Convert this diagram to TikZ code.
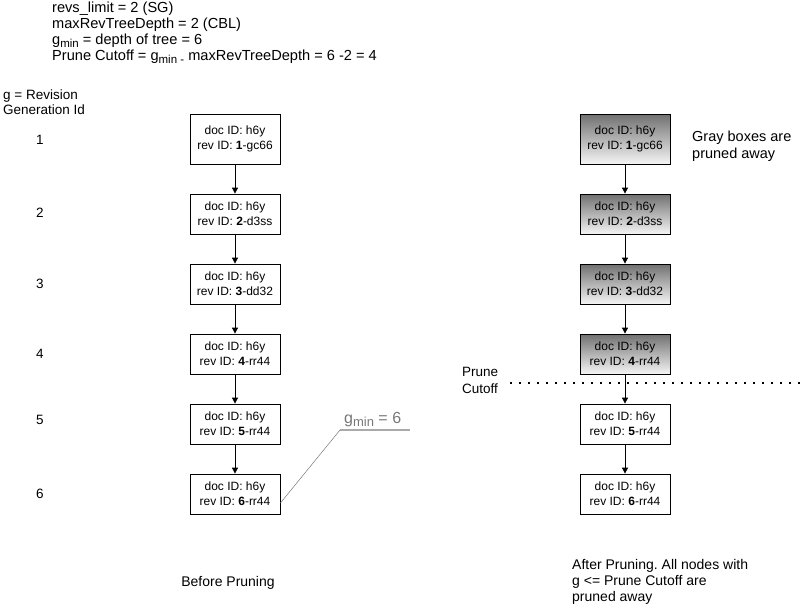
\documentclass[tikz,border=0pt]{standalone}
\usepackage{fontspec}
\setmainfont{Liberation Sans}
\usetikzlibrary{arrows.meta}
\frenchspacing
\definecolor{gtop}{RGB}{112,112,112}
\definecolor{gbot}{RGB}{245,245,245}
\definecolor{gminc}{RGB}{120,120,120}
\definecolor{gminl}{RGB}{170,170,170}
\tikzset{
  docbox/.style={draw=black, line width=0.8pt, minimum width=90pt, minimum height=40pt, align=center, inner sep=2pt, font=\fontsize{12}{15}\selectfont, fill=white},
  tallbox/.style={docbox, minimum height=50pt},
  pruned/.style={top color=gtop, bottom color=gbot},
  link/.style={draw=black, line width=0.8pt, -{Triangle[length=6pt,width=6pt]}},
  txt/.style={anchor=north west, align=left, inner sep=0pt, font=\fontsize{14}{16}\selectfont},
  gnum/.style={font=\fontsize{13.5}{15}\selectfont, inner sep=0pt}
}
\newcommand{\doctext}[2]{doc ID: h6y\\rev ID: \textbf{#1}-#2}
\newcommand{\lowsub}[1]{\raisebox{-2.8pt}{\fontsize{11.5}{11}\selectfont #1}}
\begin{document}
\begin{tikzpicture}[x=1pt,y=-1pt]
\useasboundingbox (0,0) rectangle (803,608);
% header text
\node[txt, font=\fontsize{14.6}{16}\selectfont] (hdr) at (52,2) {revs\_limit = 2 (SG)\\
maxRevTreeDepth = 2 (CBL)\\
g\lowsub{min} = depth of tree = 6\\
Prune Cutoff = g\lowsub{min -} maxRevTreeDepth = 6 -2 = 4};
\node[txt, font=\fontsize{13.5}{15}\selectfont] (glab) at (3,90) {g = Revision\\Generation Id};
% generation numbers
\node[gnum] (n1) at (40,140) {1};
\node[gnum] (n2) at (40,213) {2};
\node[gnum] (n3) at (40,284) {3};
\node[gnum] (n4) at (40,354) {4};
\node[gnum] (n5) at (40,420) {5};
\node[gnum] (n6) at (40,494) {6};
% left column
\node[tallbox] (a1) at (235,139) {\doctext{1}{gc66}};
\node[docbox] (a2) at (235,214) {\doctext{2}{d3ss}};
\node[docbox] (a3) at (235,284) {\doctext{3}{dd32}};
\node[docbox] (a4) at (235,354) {\doctext{4}{rr44}};
\node[docbox] (a5) at (235,424) {\doctext{5}{rr44}};
\node[docbox] (a6) at (235,494) {\doctext{6}{rr44}};
\foreach \i/\j in {1/2,2/3,3/4,4/5,5/6} \draw[link] (a\i) -- (a\j);
% right column
\node[tallbox,pruned] (b1) at (625,139) {\doctext{1}{gc66}};
\node[docbox,pruned] (b2) at (625,214) {\doctext{2}{d3ss}};
\node[docbox,pruned] (b3) at (625,284) {\doctext{3}{dd32}};
\node[docbox,pruned] (b4) at (625,354) {\doctext{4}{rr44}};
\node[docbox] (b5) at (625,424) {\doctext{5}{rr44}};
\node[docbox] (b6) at (625,494) {\doctext{6}{rr44}};
\foreach \i/\j in {1/2,2/3,3/4,4/5,5/6} \draw[link] (b\i) -- (b\j);
% gray boxes note
\node[txt, font=\fontsize{14.5}{17}\selectfont] (note) at (692,131) {Gray boxes are\\pruned away};
% prune cutoff
\coordinate (cl) at (510,383);
\coordinate (cr) at (800,383);
\draw[line width=1.6pt, dash pattern=on 1.6pt off 7.4pt] (cl) -- (cr);
\node[txt, font=\fontsize{13.5}{17}\selectfont] (pc) at (462,367) {Prune\\Cutoff};
% gmin label
\node[anchor=south west, inner sep=0pt, text=gminc, font=\fontsize{16}{18}\selectfont] (gm) at (344,427) {g\raisebox{-3pt}{\fontsize{13}{12}\selectfont min} = 6};
\coordinate (ul) at (340,430);
\coordinate (ur) at (410,430);
\draw[gminl, line width=1.5pt] (ul) -- (ur);
\draw[gminc, line width=0.5pt] (a6.east) ++(0,9) coordinate (gs) -- (ul);
% captions
\node[inner sep=0pt, font=\fontsize{14}{15}\selectfont] (bp) at (228,583) {Before Pruning};
\node[txt] (ap) at (572,559) {After Pruning. All nodes with\\g <= Prune Cutoff are\\pruned away};
\end{tikzpicture}
\end{document}
